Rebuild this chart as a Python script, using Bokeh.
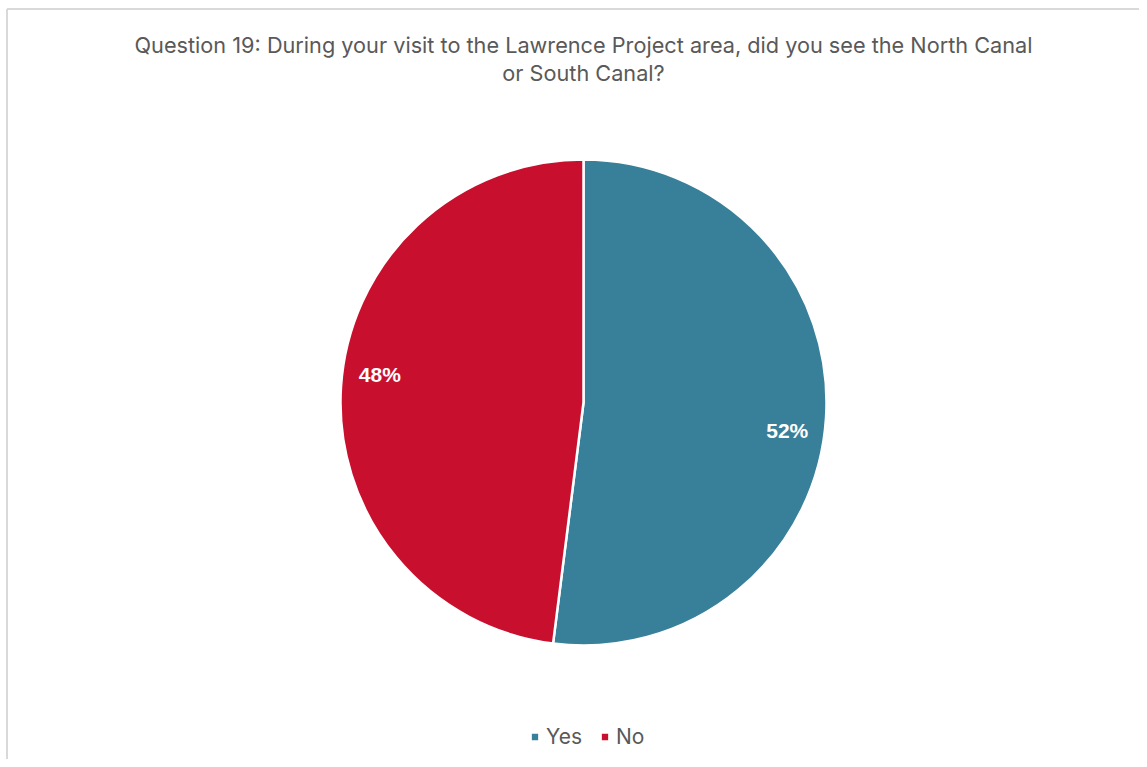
import numpy as np
from bokeh.plotting import figure
from bokeh.models import Range1d, ColumnDataSource, Legend, LegendItem
from bokeh.core.properties import value
from bokeh.embed import file_html
from bokeh.resources import INLINE

categories = ["Yes", "No"]
percent = [52, 48]
colors = ["#387F99", "#C8102E"]
title_lines = ["Question 19: During your visit to the Lawrence Project area, did you see the North Canal",
               "or South Canal?"]

W, H = 1139, 759
p = figure(width=W, height=H, output_backend="svg", toolbar_location=None,
           x_range=Range1d(0, W), y_range=Range1d(0, H), min_border=0,
           border_fill_color="white", background_fill_color="white")
p.axis.visible = False
p.grid.visible = False
p.outline_line_color = None

# chart-area border (top & left visible)
p.line(x=[6.5, 6.5], y=[0, H - 8.5], line_color="#D9D9D9", line_width=2)
p.line(x=[6.5, W], y=[H - 8.5, H - 8.5], line_color="#D9D9D9", line_width=2)

cx, cy, R = 583, H - 402, 243
frac = np.array(percent) / sum(percent)
ends = 2 * np.pi * np.cumsum(frac)
starts = ends - 2 * np.pi * frac
start_a = np.pi / 2 - starts
end_a = np.pi / 2 - ends
src = ColumnDataSource(dict(cat=categories, start=start_a, end=end_a, color=colors,
                            x=[cx] * 2, y=[cy] * 2))
wr = p.wedge(x="x", y="y", radius=R, start_angle="start", end_angle="end", direction="clock",
             fill_color="color", line_color="white", line_width=2.5, source=src)

mid = np.pi / 2 - (starts + ends) / 2
lr = 0.84 * R
lab = ColumnDataSource(dict(x=cx + lr * np.cos(mid), y=cy + lr * np.sin(mid) - 15 * np.sign(np.cos(mid)),
                            t=[f"{v}%" for v in percent]))
p.text(x="x", y="y", text="t", source=lab, text_color="white", text_font=value("Liberation Sans"),
       text_font_style="bold", text_font_size="21px", text_align="center", text_baseline="middle")

tsrc = ColumnDataSource(dict(x=[cx, cx], y=[H - 44, H - 72], t=title_lines))
p.text(x="x", y="y", text="t", source=tsrc, text_color="#595959", text_font=value("Inter"),
       text_font_size="21.7px", text_align="center", text_baseline="middle")

legend = Legend(items=[LegendItem(label=c, renderers=[wr], index=i) for i, c in enumerate(categories)],
                orientation="horizontal", location=(529, 10), border_line_color=None,
                background_fill_alpha=0, label_text_font_size="21px", label_text_color="#595959",
                label_text_font="Inter", glyph_width=11, glyph_height=11, label_height=24,
                spacing=17, label_standoff=6, padding=0, margin=0)
p.add_layout(legend, "center")

open("out.html", "w").write(file_html(p, INLINE))
